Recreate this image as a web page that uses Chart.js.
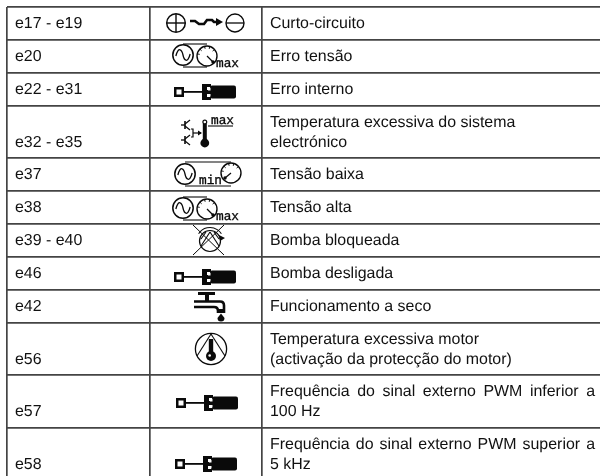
<!DOCTYPE html>
<html lang="pt">
<head>
<meta charset="utf-8">
<title>Códigos de erro</title>
<script src="https://cdn.jsdelivr.net/npm/chart.js@4"></script>
<style>html,body{margin:0;padding:0;background:#fff}canvas{display:block;filter:blur(.35px)}</style>
</head>
<body>
<canvas id="c" width="600" height="476"></canvas>
<script>
const codes = ["e17 - e19","e20","e22 - e31","e32 - e35","e37","e38","e39 - e40","e46","e42","e56","e57","e58"];
const descriptions = [
  ["Curto-circuito"],["Erro tensão"],["Erro interno"],
  ["Temperatura excessiva do sistema","electrónico"],
  ["Tensão baixa"],["Tensão alta"],["Bomba bloqueada"],["Bomba desligada"],["Funcionamento a seco"],
  ["Temperatura excessiva motor","(activação da protecção do motor)"],
  ["Frequência do sinal externo PWM inferior a","100 Hz"],
  ["Frequência do sinal externo PWM superior a","5 kHz"]
];
const justifiedFirstLine = [false,false,false,false,false,false,false,false,false,false,true,true];
const icons = ["short","max","driver","heat","min","max","blocked","driver","tap","motor","driver","driver"];
const rowEdges = [7,40,73,106,157.5,191,224,257,290,323,375,428];
const columnEdges = [7,150,262];
const iconAnchorX = [206,183,174,188,185,183,209,174,209,211,176,175];
const iconAnchorY = [23,55,92,133,174,208,241,277,306,349,403,464];

const ink = "#0a0a0a";
function line(c,pts,w){c.lineWidth=w||1;c.beginPath();pts.forEach((p,i)=>i?c.lineTo(p[0],p[1]):c.moveTo(p[0],p[1]));c.stroke();}
function circle(c,x,y,r,w){c.lineWidth=w||1.5;c.beginPath();c.arc(x,y,r,0,Math.PI*2);c.stroke();}
function disc(c,x,y,r){c.beginPath();c.arc(x,y,r,0,Math.PI*2);c.fill();}
function sine(c,x,y,r){c.lineWidth=1.3;c.beginPath();c.moveTo(x-r*.7,y+1);c.bezierCurveTo(x-r*.45,y-r*.9,x-r*.1,y-r*.5,x,y);c.bezierCurveTo(x+r*.1,y+r*.5,x+r*.45,y+r*.9,x+r*.7,y-1);c.stroke();}
function gauge(c,x,y,r,nx,ny){circle(c,x,y,r,1.4);
  for(let a=-3;a<=1;a++){const t=a*.55-Math.PI/2+.3;line(c,[[x+Math.cos(t)*(r-2.5),y+Math.sin(t)*(r-2.5)],[x+Math.cos(t)*r,y+Math.sin(t)*r]],1);}
  line(c,[[x,y],[x+nx,y+ny]],1.2);disc(c,x+nx,y+ny,1.7);}
function slab(c,t,x,y){c.font='12.8px "Liberation Mono"';c.textAlign="left";c.lineWidth=.35;c.fillText(t,x,y);c.strokeText(t,x,y);}
const glyphs = {
  short(c){
    circle(c,-30,0,9.3,1.5);line(c,[[-39,0],[-21,0]],1.4);line(c,[[-30,-9],[-30,9]],1.4);
    circle(c,29,0,9,1.4);line(c,[[20,0],[38,0]],1.3);
    line(c,[[-16,-2],[-11,-2],[-7,1],[-2,1],[1,-3],[6,-3],[8,-1],[11,-1]],2.6);
    c.beginPath();c.moveTo(10,-5);c.lineTo(17,-1);c.lineTo(10,3);c.closePath();c.fill();
  },
  max(c){
    circle(c,0,0,10.2);sine(c,0,0,10.2);
    gauge(c,24,1,10,6,6);
    line(c,[[0,-11],[24,-11]],1.1);line(c,[[0,12],[24,12]],1.1);
    slab(c,"max",33,12);
  },
  min(c){
    circle(c,0,0,10.2);sine(c,0,0,10.2);
    gauge(c,46,-1,10,-6,5);
    line(c,[[0,-12],[46,-12]],1.1);line(c,[[0,12],[46,12]],1.1);
    slab(c,"min",14,10);
  },
  driver(c){
    c.fillRect(0,-5,10,10);c.fillStyle="#fff";c.fillRect(2.5,-2.5,5,5);c.fillStyle=ink;
    c.fillRect(10,-1,18,1.8);
    c.fillRect(28,-8,5,16);
    c.fillRect(33,-8,4,3);c.fillRect(33,5,4,3);c.fillRect(33,-2,4,4);
    c.beginPath();c.roundRect(36,-6.5,26,13,2);c.fill();
    c.fillStyle="#fff";c.fillRect(34,-4,2.5,2.5);c.fillRect(34,2,2.5,2.5);c.fillStyle=ink;
  },
  heat(c){
    [-8,7].forEach(d=>{
      line(c,[[-7,d],[-3,d]],1.3);line(c,[[-3,d-4],[-3,d+4]],1.6);
      line(c,[[-3,d-1],[2,d-5]],1.3);line(c,[[-3,d+1],[2,d+5]],1.3);
    });
    line(c,[[3,-4],[5,-4],[5,4],[3,4]],1.2);line(c,[[5,0],[13,0]],1.2);
    c.beginPath();c.moveTo(14,0);c.lineTo(10,-2.5);c.lineTo(10,2.5);c.closePath();c.fill();
    c.fillRect(14.8,-9,4,17);disc(c,16.8,10,4.4);circle(c,16.8,-11,1.9,1.2);
    slab(c,"max",23,-9);line(c,[[20,-7],[45,-7]],1.1);
  },
  blocked(c){
    line(c,[[-16,-16],[15,14]],1);line(c,[[15,-16],[-16,14]],1);
    circle(c,1,0,10.5,1.2);
    c.beginPath();c.arc(1,0,13.5,Math.PI*1.18,Math.PI*1.82);c.lineWidth=1.1;c.stroke();
    line(c,[[1,-9],[-8,5]],1.1);line(c,[[1,-9],[10,5]],1.1);line(c,[[-3,-9],[-8,-2]],1.1);line(c,[[5,-9],[10,-2]],1.1);
    c.beginPath();c.moveTo(10,-6);c.lineTo(16,-3);c.lineTo(11,0);c.closePath();c.fill();
  },
  tap(c){
    c.fillRect(-11,-14,17,3);c.fillRect(-4,-11,4,6);
    c.lineWidth=2.6;
    c.beginPath();c.moveTo(-15,-4.5);c.lineTo(11,-4.5);c.quadraticCurveTo(15,-4.5,15,-0.5);c.lineTo(15,7);c.stroke();
    c.beginPath();c.moveTo(-15,1);c.lineTo(5,1);c.quadraticCurveTo(9,1,9,5);c.lineTo(9,7);c.stroke();
    c.fillRect(8,3,8,4);
    c.beginPath();c.moveTo(12,7.5);c.lineTo(15.5,12);c.arc(12,12,3.5,0,Math.PI);c.closePath();c.fill();
  },
  motor(c){
    circle(c,0,0,15.6,1.3);
    line(c,[[0,-15],[-14,7]],1.1);line(c,[[0,-15],[14,7]],1.1);
    c.fillRect(-2.2,-10,4.4,15);disc(c,0,7,5);
    c.fillStyle="#fff";disc(c,-1.3,6.5,1.3);c.fillStyle=ink;
  }
};
const tablePlugin = {
  id:"tableText",
  afterDraw(chart){
    const c=chart.ctx,x=chart.scales.x,y=chart.scales.y;
    c.save();
    c.textBaseline="alphabetic";c.textAlign="left";
    if("textRendering" in c)c.textRendering="geometricPrecision";
    codes.forEach((code,i)=>{
      const top=y.getPixelForValue(rowEdges[i]);
      const lines=descriptions[i];
      c.font='15.95px "Liberation Sans"';
      c.fillStyle="#111";
      c.fillText(code,x.getPixelForValue(15),top+21+20*(lines.length-1));
      lines.forEach((t,k)=>{
        const by=top+21+20*k,lx=x.getPixelForValue(270);
        if(k===0&&justifiedFirstLine[i]){
          const words=t.split(" "),r=x.getPixelForValue(595);
          const sum=words.reduce((s,w)=>s+c.measureText(w).width,0);
          const gap=(r-lx-sum)/(words.length-1);let p=lx;
          words.forEach(w=>{c.fillText(w,p,by);p+=c.measureText(w).width+gap;});
        } else c.fillText(t,lx,by);
      });
      c.save();
      c.translate(x.getPixelForValue(iconAnchorX[i]),y.getPixelForValue(iconAnchorY[i]));
      c.fillStyle=ink;c.strokeStyle=ink;c.lineCap="butt";
      glyphs[icons[i]](c);
      c.restore();
    });
    c.restore();
  }
};
function axis(min,max,edges,reverse){
  return {type:"linear",min,max,reverse,
    afterBuildTicks(s){s.ticks=edges.map(v=>({value:v}));},
    ticks:{display:false},border:{display:false},
    grid:{color:"#444",lineWidth:1.7,drawTicks:false}};
}
new Chart(document.getElementById("c"),{
  type:"scatter",
  data:{datasets:[{data:[]}]},
  options:{responsive:false,animation:false,
    layout:{padding:{left:7,top:7,right:0,bottom:0}},
    plugins:{legend:{display:false},tooltip:{enabled:false},title:{display:false}},
    scales:{x:axis(7,600,columnEdges,false),y:axis(7,476,rowEdges,true)}},
  plugins:[tablePlugin]
});
</script>
</body>
</html>
